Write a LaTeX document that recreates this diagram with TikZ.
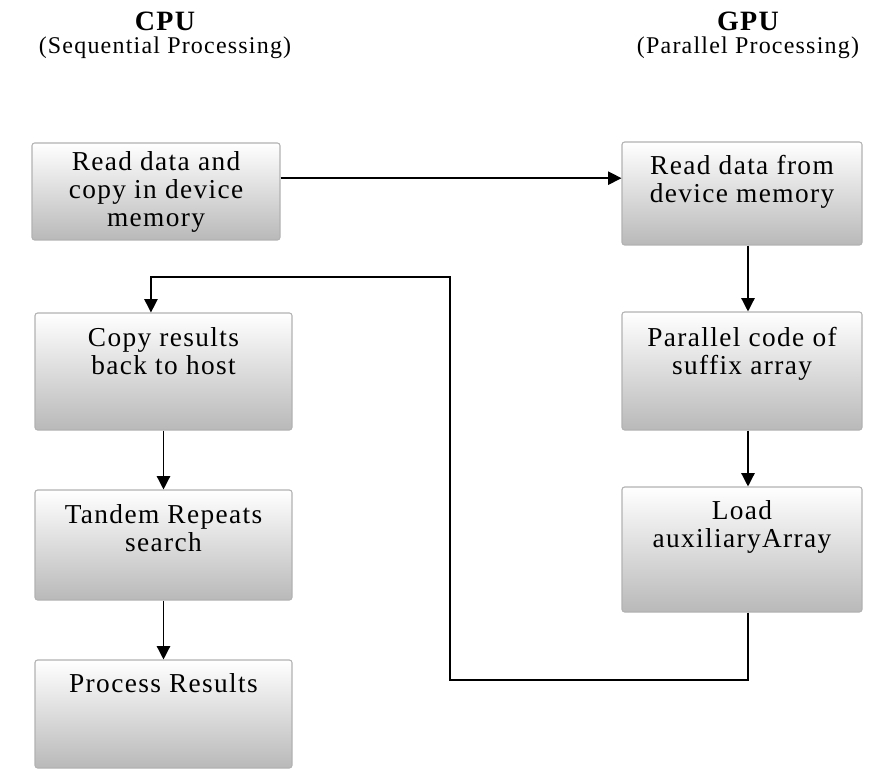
\documentclass[tikz,border=0pt]{standalone}
\usepackage{fontspec}
\setmainfont{Liberation Serif}
\newfontfamily\spacedserif[LetterSpace=5]{Liberation Serif}
\usetikzlibrary{arrows.meta, positioning, calc}

\begin{document}
\begin{tikzpicture}[
    x=0.75pt, y=-0.75pt,
    every node/.style={font=\spacedserif\fontsize{20.5}{21}\selectfont},
    stage/.style={rectangle, draw=gray!60, line width=0.8pt, rounded corners=2pt, align=center,
                  top color=white, middle color=gray!8, bottom color=gray!55, minimum width=#1},
    heading/.style={font=\spacedserif\bfseries\fontsize{21}{22}\selectfont},
    subheading/.style={font=\spacedserif\fontsize{18}{20}\selectfont},
    arrow/.style={-{Triangle[length=10pt, width=10pt]}, line width=1pt}
]
\useasboundingbox (0,0) rectangle (875,770);

% Column headings
\node[heading] (cpu) at (165,21) {CPU};
\node[subheading] (cpusub) at (165,48) {(Sequential Processing)};
\node[heading] (gpu) at (748,21) {GPU};
\node[subheading] (gpusub) at (748,48) {(Parallel Processing)};

% CPU side
\node[stage=186pt, minimum height=72.75pt] (read) at (156,191.5) {Read data and\\copy in device\\memory};
\node[stage=192.75pt, minimum height=87.75pt, text depth=30pt] (copy) at (163.5,371.5) {Copy results\\back to host};
\node[stage=192.75pt, minimum height=82.5pt, text depth=25.5pt] (tandem) at (163.5,545) {Tandem Repeats\\search};
\node[stage=192.75pt, minimum height=81pt, text depth=46.5pt] (process) at (163.5,714) {Process Results};

% GPU side
\node[stage=180pt, minimum height=77.25pt, text depth=22pt] (fetch) at (742,193.5) {Read data from\\device memory};
\node[stage=180pt, minimum height=88.5pt, text depth=29.5pt] (suffix) at (742,371) {Parallel code of\\suffix array};
\node[stage=180pt, minimum height=93.75pt, text depth=38.5pt] (load) at (742,549.5) {Load\\auxiliaryArray};

% Host to device
\coordinate (handoff) at ([yshift=10pt]read.east);
\draw[arrow] (handoff) -- (handoff -| fetch.west);

% Device flow
\draw[arrow] ([xshift=4.5pt]fetch.south) -- ([xshift=4.5pt]suffix.north);
\draw[arrow] ([xshift=4.5pt]suffix.south) -- ([xshift=4.5pt]load.north);

% Back to host
\coordinate (retlow) at (450,680);
\coordinate (rethigh) at (450,277);
\draw[arrow] ([xshift=4.5pt]load.south) |- (retlow) -- (rethigh) -| ([xshift=-9.4pt]copy.north);

% Host flow
\draw[arrow] (copy) -- (tandem);
\draw[arrow] (tandem) -- (process);

\end{tikzpicture}
\end{document}
